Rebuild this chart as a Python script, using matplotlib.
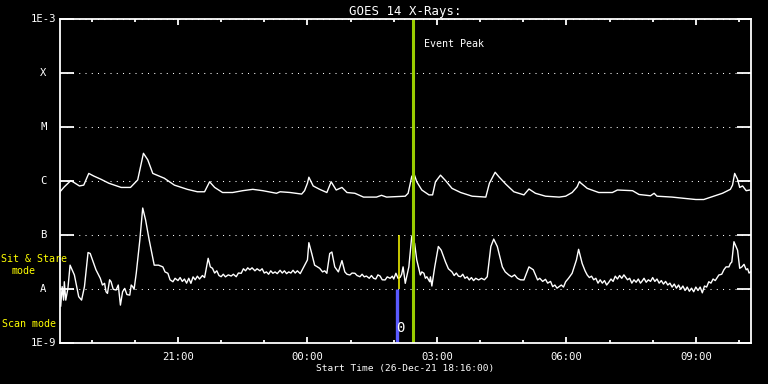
import matplotlib
matplotlib.use('Agg')
import matplotlib.pyplot as plt
import matplotlib.transforms as mtransforms
from matplotlib.ticker import NullLocator

# GOES 14 X-ray flux, 26-Dec-21 18:16 onwards (W/m^2)
long_time = ["18:16", "18:22", "18:31", "18:36", "18:43", "18:49", "18:56", "19:03", "19:13", "19:24",
             "19:41", "19:54", "20:04", "20:12", "20:18", "20:25", "20:41", "20:55", "21:13", "21:27",
             "21:37", "21:44", "21:51", "22:02", "22:16", "22:30", "22:44", "22:58", "23:17", "23:22",
             "23:36", "23:52", "23:56", "00:00", "00:02", "00:08", "00:17", "00:27", "00:33", "00:40",
             "00:48", "00:55", "01:06", "01:18", "01:36", "01:43", "01:50", "02:16", "02:20", "02:25",
             "02:28", "02:32", "02:39", "02:49", "02:54", "02:58", "03:05", "03:12", "03:21", "03:33",
             "03:49", "04:08", "04:13", "04:21", "04:26", "04:36", "04:47", "05:01", "05:08", "05:17",
             "05:31", "05:50", "05:59", "06:08", "06:15", "06:18", "06:29", "06:45", "07:04", "07:11",
             "07:32", "07:41", "07:57", "08:02", "08:06", "08:27", "08:46", "09:00", "09:11", "09:23",
             "09:37", "09:48", "09:51", "09:54", "09:58", "10:01", "10:05", "10:10", "10:15"]
long_flux = [6.4e-7, 7.9e-7, 1.03e-6, 9.4e-7, 8.2e-7, 8.5e-7, 1.4e-6, 1.25e-6, 1.09e-6, 9.2e-7,
             7.7e-7, 7.7e-7, 1.06e-6, 3.3e-6, 2.5e-6, 1.4e-6, 1.14e-6, 8.5e-7, 7.1e-7, 6.4e-7,
             6.4e-7, 9.8e-7, 7.7e-7, 6.2e-7, 6.2e-7, 6.7e-7, 7.1e-7, 6.7e-7, 6.0e-7, 6.4e-7,
             6.2e-7, 5.8e-7, 6.7e-7, 9.2e-7, 1.19e-6, 8.2e-7, 7.1e-7, 6.2e-7, 9.8e-7, 6.9e-7,
             7.7e-7, 6.2e-7, 6.0e-7, 5.1e-7, 5.1e-7, 5.5e-7, 5.1e-7, 5.3e-7, 6.0e-7, 1.22e-6,
             1.4e-6, 9.8e-7, 6.9e-7, 5.6e-7, 5.6e-7, 9.8e-7, 1.3e-6, 1.03e-6, 7.4e-7, 6.2e-7,
             5.3e-7, 5.1e-7, 9.2e-7, 1.47e-6, 1.22e-6, 8.8e-7, 6.4e-7, 5.6e-7, 7.2e-7, 6.0e-7,
             5.3e-7, 5.1e-7, 5.3e-7, 6.2e-7, 7.9e-7, 9.8e-7, 7.4e-7, 6.2e-7, 6.2e-7, 6.9e-7,
             6.7e-7, 5.7e-7, 5.4e-7, 6.0e-7, 5.3e-7, 5.1e-7, 4.8e-7, 4.6e-7, 4.6e-7, 5.2e-7,
             6.0e-7, 7.1e-7, 8.5e-7, 1.4e-6, 1.09e-6, 7.7e-7, 8.2e-7, 6.7e-7, 6.9e-7]

short_time = ["18:17", "18:19", "18:21", "18:22", "18:24", "18:27", "18:30", "18:36", "18:42", "18:46",
              "18:50", "18:55", "18:58", "19:06", "19:12", "19:15", "19:18", "19:20", "19:22", "19:25",
              "19:27", "19:30", "19:34", "19:37", "19:40", "19:43", "19:46", "19:49", "19:53", "19:55",
              "19:57", "19:59", "20:02", "20:07", "20:11", "20:15", "20:20", "20:27", "20:33", "20:39",
              "20:42", "20:46", "20:49", "20:53", "20:56", "21:00", "21:03", "21:06", "21:09", "21:12",
              "21:15", "21:18", "21:21", "21:24", "21:27", "21:30", "21:34", "21:37", "21:42", "21:45",
              "21:48", "21:51", "21:54", "21:57", "22:00", "22:03", "22:06", "22:10", "22:14", "22:17",
              "22:21", "22:24", "22:28", "22:31", "22:34", "22:37", "22:40", "22:43", "22:47", "22:50",
              "22:54", "22:57", "23:00", "23:03", "23:06", "23:09", "23:12", "23:15", "23:18", "23:22",
              "23:25", "23:28", "23:31", "23:34", "23:37", "23:40", "23:43", "23:46", "23:50", "23:55",
              "00:00", "00:02", "00:06", "00:10", "00:14", "00:17", "00:21", "00:24", "00:27", "00:31",
              "00:34", "00:38", "00:43", "00:48", "00:52", "00:55", "00:59", "01:02", "01:06", "01:09",
              "01:13", "01:16", "01:19", "01:22", "01:26", "01:29", "01:32", "01:35", "01:38", "01:41",
              "01:44", "01:48", "01:51", "01:55", "01:58", "02:00", "02:03", "02:06", "02:09", "02:11",
              "02:13", "02:16", "02:21", "02:25", "02:29", "02:32", "02:37", "02:39", "02:42", "02:44",
              "02:46", "02:50", "02:51", "02:53", "02:57", "03:02", "03:06", "03:12", "03:16", "03:21",
              "03:24", "03:27", "03:30", "03:33", "03:36", "03:39", "03:42", "03:45", "03:48", "03:51",
              "03:54", "03:58", "04:02", "04:06", "04:10", "04:15", "04:19", "04:24", "04:31", "04:35",
              "04:40", "04:44", "04:48", "04:52", "04:56", "05:01", "05:08", "05:14", "05:20", "05:23",
              "05:27", "05:31", "05:34", "05:38", "05:41", "05:44", "05:47", "05:50", "05:53", "05:56",
              "05:59", "06:03", "06:08", "06:14", "06:17", "06:22", "06:26", "06:29", "06:32", "06:35",
              "06:38", "06:41", "06:44", "06:47", "06:50", "06:53", "06:56", "06:59", "07:02", "07:05",
              "07:08", "07:11", "07:14", "07:17", "07:20", "07:22", "07:25", "07:28", "07:31", "07:34",
              "07:37", "07:40", "07:43", "07:45", "07:48", "07:51", "07:54", "07:57", "08:00", "08:03",
              "08:06", "08:09", "08:12", "08:15", "08:18", "08:21", "08:24", "08:27", "08:30", "08:33",
              "08:36", "08:39", "08:42", "08:45", "08:48", "08:51", "08:54", "08:57", "09:00", "09:03",
              "09:06", "09:09", "09:12", "09:15", "09:18", "09:21", "09:24", "09:27", "09:32", "09:36",
              "09:39", "09:42", "09:46", "09:48", "09:50", "09:53", "09:58", "10:01", "10:04", "10:07",
              "10:10", "10:12", "10:14", "10:16"]
short_flux = [4.9e-9, 1.12e-8, 6.3e-9, 1.38e-8, 6.3e-9, 1.04e-8, 2.8e-8, 1.84e-8, 7.3e-9, 6.3e-9,
              1.12e-8, 4.8e-8, 4.6e-8, 2.3e-8, 1.6e-8, 1.2e-8, 1.29e-8, 9.0e-9, 8.4e-9, 1.5e-8,
              1.38e-8, 1.0e-8, 9.7e-9, 1.2e-8, 5.1e-9, 9.0e-9, 1.04e-8, 8.0e-9, 7.8e-9, 1.2e-8,
              1.12e-8, 1.0e-8, 1.98e-8, 8.2e-8, 3.2e-7, 1.92e-7, 8.2e-8, 2.8e-8, 2.8e-8, 2.6e-8,
              2.1e-8, 1.98e-8, 1.5e-8, 1.38e-8, 1.6e-8, 1.45e-8, 1.65e-8, 1.4e-8, 1.55e-8, 1.3e-8,
              1.6e-8, 1.29e-8, 1.7e-8, 1.5e-8, 1.75e-8, 1.55e-8, 1.8e-8, 1.65e-8, 3.75e-8, 2.6e-8,
              2.45e-8, 2.0e-8, 2.2e-8, 1.8e-8, 1.71e-8, 1.9e-8, 1.7e-8, 1.85e-8, 1.76e-8, 1.9e-8,
              1.71e-8, 2.0e-8, 1.98e-8, 2.4e-8, 2.2e-8, 2.5e-8, 2.3e-8, 2.5e-8, 2.2e-8, 2.4e-8,
              2.2e-8, 2.4e-8, 2.0e-8, 2.1e-8, 1.9e-8, 2.2e-8, 1.98e-8, 2.1e-8, 1.95e-8, 2.25e-8,
              2.0e-8, 2.2e-8, 1.95e-8, 2.1e-8, 2.0e-8, 2.25e-8, 2.0e-8, 2.2e-8, 1.95e-8, 2.6e-8,
              3.5e-8, 7.3e-8, 4.6e-8, 2.8e-8, 2.6e-8, 2.45e-8, 2.1e-8, 2.2e-8, 1.98e-8, 4.6e-8,
              4.9e-8, 2.6e-8, 2.1e-8, 3.4e-8, 2.1e-8, 1.9e-8, 1.84e-8, 2.0e-8, 1.98e-8, 1.8e-8,
              1.71e-8, 1.9e-8, 1.7e-8, 1.76e-8, 1.6e-8, 1.8e-8, 1.6e-8, 1.55e-8, 1.85e-8, 1.76e-8,
              1.5e-8, 1.49e-8, 1.7e-8, 1.6e-8, 1.75e-8, 1.55e-8, 1.98e-8, 1.6e-8, 1.67e-8, 1.9e-8,
              2.6e-8, 1.29e-8, 2.6e-8, 9.5e-8, 7.1e-8, 3.5e-8, 1.84e-8, 2.1e-8, 1.98e-8, 1.6e-8,
              1.71e-8, 1.38e-8, 1.7e-8, 1.15e-8, 2.6e-8, 6.2e-8, 5.3e-8, 3.2e-8, 2.4e-8, 2.1e-8,
              1.8e-8, 2.0e-8, 1.75e-8, 1.71e-8, 1.9e-8, 1.6e-8, 1.7e-8, 1.49e-8, 1.65e-8, 1.45e-8,
              1.6e-8, 1.49e-8, 1.6e-8, 1.5e-8, 1.71e-8, 6.2e-8, 8.5e-8, 6.2e-8, 2.6e-8, 2.1e-8,
              1.84e-8, 1.7e-8, 1.85e-8, 1.6e-8, 1.5e-8, 1.49e-8, 2.6e-8, 2.3e-8, 1.49e-8, 1.6e-8,
              1.4e-8, 1.53e-8, 1.3e-8, 1.4e-8, 1.12e-8, 1.2e-8, 1.05e-8, 1.12e-8, 1.2e-8, 1.1e-8,
              1.38e-8, 1.6e-8, 1.98e-8, 3.5e-8, 5.5e-8, 3.0e-8, 2.2e-8, 1.84e-8, 1.65e-8, 1.75e-8,
              1.5e-8, 1.6e-8, 1.3e-8, 1.5e-8, 1.3e-8, 1.45e-8, 1.2e-8, 1.35e-8, 1.55e-8, 1.4e-8,
              1.75e-8, 1.55e-8, 1.8e-8, 1.6e-8, 1.85e-8, 1.7e-8, 1.5e-8, 1.6e-8, 1.3e-8, 1.5e-8,
              1.35e-8, 1.55e-8, 1.3e-8, 1.4e-8, 1.6e-8, 1.35e-8, 1.5e-8, 1.4e-8, 1.65e-8, 1.4e-8,
              1.55e-8, 1.3e-8, 1.45e-8, 1.25e-8, 1.4e-8, 1.2e-8, 1.3e-8, 1.1e-8, 1.25e-8, 1.05e-8,
              1.2e-8, 1.0e-8, 1.15e-8, 9.5e-9, 1.1e-8, 9.2e-9, 1.05e-8, 9.0e-9, 1.1e-8, 9.5e-9,
              1.1e-8, 8.6e-9, 1.15e-8, 1.1e-8, 1.38e-8, 1.3e-8, 1.55e-8, 1.45e-8, 1.84e-8, 1.9e-8,
              2.3e-8, 2.6e-8, 2.6e-8, 3.0e-8, 3.2e-8, 7.6e-8, 5.3e-8, 2.45e-8, 2.6e-8, 2.9e-8,
              2.3e-8, 2.4e-8, 2.0e-8, 2.1e-8]

flare_levels = [1e-9, 1e-8, 1e-7, 1e-6, 1e-5, 1e-4, 1e-3]
flare_labels = ["1E-9", "A", "B", "C", "M", "X", "1E-3"]
major_clock = ["21:00", "00:00", "03:00", "06:00", "09:00"]
minor_clock = ["19:00", "20:00", "22:00", "23:00", "01:00", "02:00", "04:00", "05:00",
               "07:00", "08:00", "10:00"]
event_peak = "02:26:30"
mode_switch = "02:08"
scan_flag = "02:05"


def hours_after_start(clock, start="18:16"):
    parts = [int(v) for v in clock.split(':')]
    mins = parts[0] * 60 + parts[1] + (parts[2] / 60.0 if len(parts) > 2 else 0)
    h0, m0 = (int(v) for v in start.split(':'))
    mins -= h0 * 60 + m0
    if mins < 0:
        mins += 24 * 60
    return mins / 60.0


def plot_goes(output_file):
    plt.rcParams['font.family'] = ['DejaVu Sans Mono', 'DejaVu Sans']
    fig = plt.figure(figsize=(7.68, 3.84), dpi=100, facecolor='black')
    ax = fig.add_axes([60 / 768, 40.7 / 384, 690.5 / 768, 324 / 384])
    ax.set_facecolor('black')
    fs = 7.2

    ax.plot([hours_after_start(t) for t in long_time], long_flux, color='white', lw=1.0)
    ax.plot([hours_after_start(t) for t in short_time], short_flux, color='white', lw=1.0)

    ax.set_yscale('log')
    ax.set_ylim(1e-9, 1e-3)
    ax.set_xlim(0, 16)

    for s in ax.spines.values():
        s.set_color('white')
        s.set_linewidth(1.3)

    # y ticks / labels
    ax.set_yticks(flare_levels)
    ax.set_yticklabels([])
    ax.yaxis.set_minor_locator(NullLocator())
    ax.tick_params(axis='y', which='major', direction='in', length=10, width=1.3,
                   color='white', left=True, right=True)
    ax.yaxis.grid(True, color='white', linestyle=(0, (1, 5)), lw=0.75)
    trans = mtransforms.blended_transform_factory(ax.transAxes, ax.transData)
    for lev, lab in zip(flare_levels, flare_labels):
        if lab.startswith('1E'):
            ax.text(-0.005, lev, lab, transform=trans, ha='right', va='center',
                    color='white', fontsize=fs + 0.4)
        else:
            ax.text(-0.024, lev, lab, transform=trans, ha='center', va='center',
                    color='white', fontsize=fs + 0.4)

    # x ticks
    ax.set_xticks([hours_after_start(t) for t in major_clock])
    ax.set_xticklabels(major_clock)
    ax.set_xticks([hours_after_start(t) for t in minor_clock], minor=True)
    ax.tick_params(axis='x', which='major', direction='in', length=4.5, width=1.3,
                   color='white', top=True, bottom=True, labelcolor='white',
                   labelsize=fs + 0.4, pad=6)
    ax.tick_params(axis='x', which='minor', direction='in', length=2.5, width=1.3,
                   color='white', top=True, bottom=True)
    ax.set_xlabel('Start Time (26-Dec-21 18:16:00)', color='white', fontsize=fs - 0.4,
                  labelpad=2)
    ax.set_title('GOES 14 X-Rays:', color='white', fontsize=8.9, pad=3)

    # event markers
    tp = hours_after_start(event_peak)
    ax.axvline(tp, color='#99cc00', lw=2.2)
    ax.text(tp + 0.25, 3.5e-4, 'Event Peak', color='white', fontsize=fs, va='center')
    ax.vlines(hours_after_start(mode_switch), 1e-8, 1e-7, color='#ffff00', lw=1.1)
    ax.vlines(hours_after_start(scan_flag), 1e-9, 1e-8, color='#5a5aff', lw=2.4)
    ax.text(hours_after_start(scan_flag) + 0.08, 1.9e-9, '0', color='white',
            fontsize=fs + 3, ha='center', va='center')

    # mode labels
    fig.text(34 / 768, 1 - 259 / 384, 'Sit & Stare', color='yellow', fontsize=fs,
             ha='center', va='center')
    fig.text(24 / 768, 1 - 271 / 384, 'mode', color='yellow', fontsize=fs,
             ha='center', va='center')
    fig.text(2 / 768, 1 - 324 / 384, 'Scan mode', color='yellow', fontsize=fs,
             ha='left', va='center')

    fig.savefig(output_file, dpi=100, facecolor='black')


if __name__ == '__main__':
    plot_goes('out.png')
